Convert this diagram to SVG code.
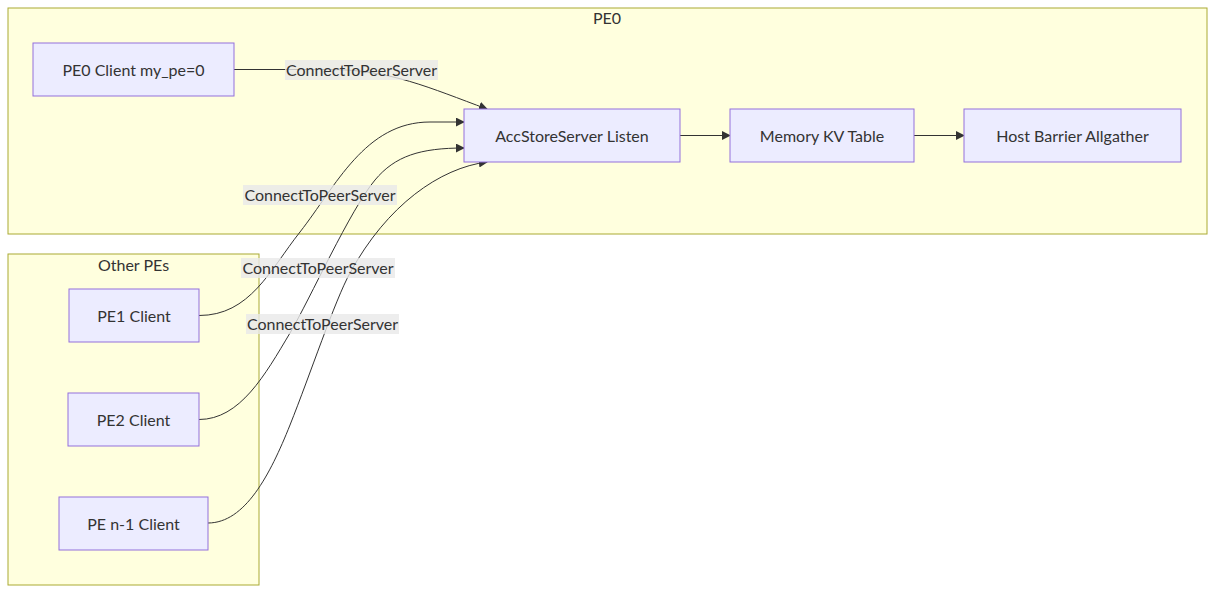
<svg xmlns="http://www.w3.org/2000/svg" width="1215" height="594" viewBox="0 0 1215 594">
<style>
text{font-family:Lato,"Liberation Sans",sans-serif;font-size:16px;fill:#333;text-anchor:middle;dominant-baseline:central}
.cluster{fill:#ffffde;stroke:#aaaa33;stroke-width:1}
.node rect{fill:#ECECFF;stroke:#9370DB;stroke-width:1}
.edge{fill:none;stroke:#333;stroke-width:1}
.lbl{fill:#e8e8e8;opacity:0.8}
</style>
<defs>
<marker id="arr" viewBox="0 0 10 10" refX="9" refY="5" markerUnits="userSpaceOnUse" markerWidth="9" markerHeight="9" orient="auto">
<path d="M0,0 L10,5 L0,10 z" fill="#333"/>
</marker>
</defs>
<g id="cluster-PE0">
<rect class="cluster" x="8" y="8" width="1199" height="226"/>
<text x="607" y="17.5">PE0</text>
</g>
<g id="cluster-OtherPEs">
<rect class="cluster" x="8" y="254" width="251" height="331"/>
<text x="133.5" y="264.5">Other PEs</text>
</g>
<g id="connectors">
<path class="edge" d="M234,69.5 L330,69.5 C390,69.5 430,88 487,109" marker-end="url(#arr)"/>
<path class="edge" d="M680,135.5 L730,135.5" marker-end="url(#arr)"/>
<path class="edge" d="M914,135.5 L964,135.5" marker-end="url(#arr)"/>
<path class="edge" d="M199,315.5 C250,315.5 270,270 300,232 C336,186 365,122 430,122 L464,122" marker-end="url(#arr)"/>
<path class="edge" d="M199,419.5 C240,419.5 265,375 290,333 C310,299 350,210 375,180 C395,156 420,148 464,148" marker-end="url(#arr)"/>
<path class="edge" d="M208,523 C245,523 270,475 290,425 C310,375 335,300 350,273 C387,205 440,168 487,162" marker-end="url(#arr)"/>
<rect class="lbl" x="285" y="60" width="153" height="20"/>
<text x="361.5" y="69">ConnectToPeerServer</text>
<rect class="lbl" x="243" y="185" width="154" height="20"/>
<text x="320" y="194">ConnectToPeerServer</text>
<rect class="lbl" x="241" y="258" width="154" height="20"/>
<text x="318" y="267">ConnectToPeerServer</text>
<rect class="lbl" x="246" y="314" width="153" height="20"/>
<text x="322.5" y="323">ConnectToPeerServer</text>
</g>
<g id="node-PE0Client" class="node">
<rect x="33" y="43" width="201" height="53"/>
<text x="133.5" y="69">PE0 Client my_pe=0</text>
</g>
<g id="node-AccStoreServer" class="node">
<rect x="464" y="109" width="216" height="53"/>
<text x="572" y="135">AccStoreServer Listen</text>
</g>
<g id="node-MemoryKV" class="node">
<rect x="730" y="109" width="184" height="53"/>
<text x="822" y="135">Memory KV Table</text>
</g>
<g id="node-HostBarrier" class="node">
<rect x="964" y="109" width="217" height="53"/>
<text x="1072.5" y="135">Host Barrier Allgather</text>
</g>
<g id="node-PE1" class="node">
<rect x="69" y="289" width="130" height="53"/>
<text x="134" y="315">PE1 Client</text>
</g>
<g id="node-PE2" class="node">
<rect x="68" y="393" width="131" height="53"/>
<text x="133.5" y="419">PE2 Client</text>
</g>
<g id="node-PEn1" class="node">
<rect x="59" y="497" width="149" height="53"/>
<text x="133.5" y="523">PE n-1 Client</text>
</g>
</svg>
